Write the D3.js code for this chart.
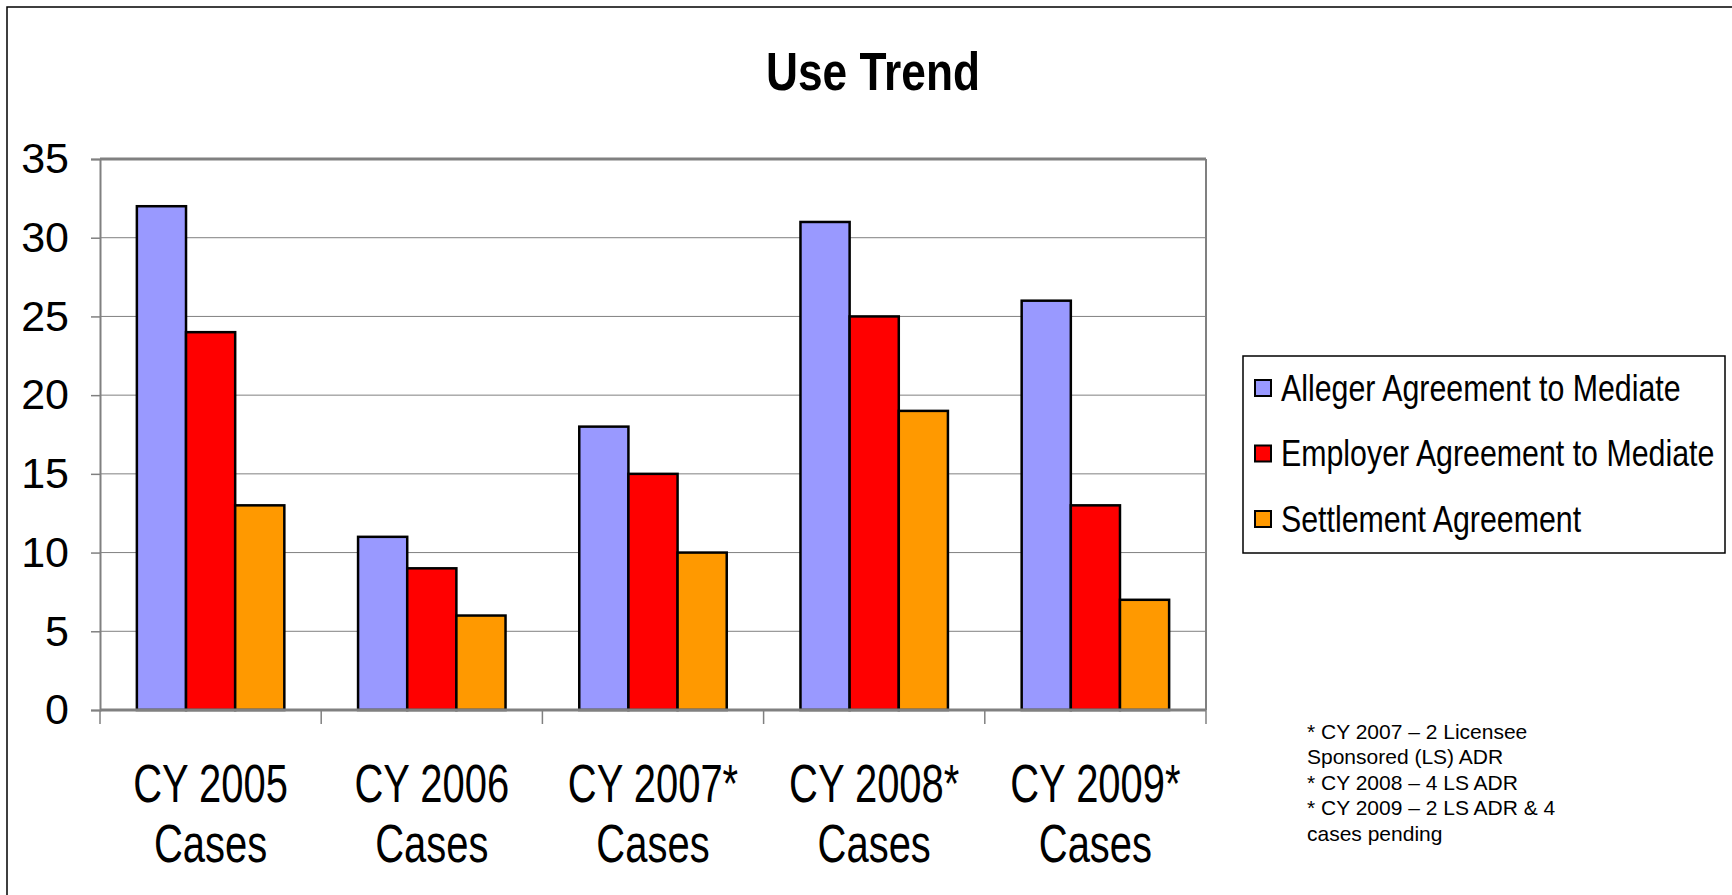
<!DOCTYPE html>
<html>
<head>
<meta charset="utf-8">
<script src="https://cdn.jsdelivr.net/npm/d3@7"></script>
<style>
  body { margin: 0; background: #fff; }
  svg { display: block; }
</style>
</head>
<body>
<div id="chart"></div>
<script>
var categories = [["CY 2005", "Cases"], ["CY 2006", "Cases"], ["CY 2007*", "Cases"], ["CY 2008*", "Cases"], ["CY 2009*", "Cases"]];
var seriesNames = ["Alleger Agreement to Mediate", "Employer Agreement to Mediate", "Settlement Agreement"];
var allegerValues = [32, 11, 18, 31, 26];
var employerValues = [24, 9, 15, 25, 13];
var settlementValues = [13, 6, 10, 19, 7];
var yTicks = [0, 5, 10, 15, 20, 25, 30, 35];
var footnotes = ["* CY 2007 \u2013 2 Licensee", "Sponsored (LS) ADR", "* CY 2008 \u2013 4 LS ADR", "* CY 2009 \u2013 2 LS ADR & 4", "cases pending"];

var colors = ["#9999FF", "#FF0000", "#FF9900"];
// no narrow font installed, so squeeze Liberation Sans horizontally instead
var font = "'Liberation Sans', Arial, sans-serif";

var W = 1732, H = 895;
var plot = { left: 100, right: 1206, top: 159, bottom: 710 };

function squeeze(x, y, sx) {
    return "translate(" + x + "," + y + ") scale(" + sx + ",1)";
}

var svg = d3.select("#chart").append("svg")
    .attr("width", W)
    .attr("height", H);

// outer frame
svg.append("rect")
    .attr("x", 7).attr("y", 7)
    .attr("width", W + 20).attr("height", H + 20)
    .attr("fill", "none")
    .attr("stroke", "#000")
    .attr("stroke-width", 1.5);

svg.append("text")
    .attr("transform", squeeze(873, 90, 0.82))
    .attr("text-anchor", "middle")
    .style("font-family", font)
    .style("font-weight", "bold")
    .style("font-size", "54px")
    .text("Use Trend");

var x0 = d3.scaleBand()
    .domain(d3.range(categories.length))
    .range([plot.left, plot.right])
    .padding(0);

var x1 = d3.scaleBand()
    .domain(d3.range(seriesNames.length))
    .range([0, x0.bandwidth()])
    .paddingInner(0)
    .paddingOuter(0.75);

var y = d3.scaleLinear()
    .domain([0, 35])
    .range([plot.bottom, plot.top]);

// grid lines
svg.append("g").selectAll("line")
    .data(yTicks.filter(function (d) { return d > 0; }))
    .enter().append("line")
    .attr("x1", plot.left).attr("x2", plot.right)
    .attr("y1", function (d) { return y(d); })
    .attr("y2", function (d) { return y(d); })
    .attr("stroke", "#808080")
    .attr("stroke-width", function (d) { return d === 35 ? 3 : 1; });

// right border of plot
svg.append("line")
    .attr("x1", plot.right).attr("x2", plot.right)
    .attr("y1", plot.top).attr("y2", plot.bottom)
    .attr("stroke", "#808080")
    .attr("stroke-width", 2);

var data = categories.map(function (c, i) {
    return [allegerValues[i], employerValues[i], settlementValues[i]];
});

var groups = svg.append("g").selectAll("g")
    .data(data)
    .enter().append("g")
    .attr("transform", function (d, i) { return "translate(" + x0(i) + ",0)"; });

groups.selectAll("rect")
    .data(function (d) { return d; })
    .enter().append("rect")
    .attr("x", function (d, j) { return x1(j); })
    .attr("y", function (d) { return y(d); })
    .attr("width", x1.bandwidth())
    .attr("height", function (d) { return y(0) - y(d); })
    .attr("fill", function (d, j) { return colors[j]; })
    .attr("stroke", "#000")
    .attr("stroke-width", 2.5);

// y axis
var yAxis = svg.append("g")
    .attr("transform", "translate(" + plot.left + ",0)")
    .call(d3.axisLeft(y).tickValues(yTicks).tickSize(9).tickPadding(22));
yAxis.select(".domain").attr("stroke", "#808080").attr("stroke-width", 2);
yAxis.selectAll(".tick line").attr("stroke", "#808080").attr("stroke-width", 1.5);
yAxis.selectAll(".tick text")
    .style("font-family", font)
    .style("font-size", "43px")
    .attr("fill", "#000");

// x axis line and ticks at band edges
var xAxis = svg.append("g")
    .attr("transform", "translate(0," + plot.bottom + ")");
xAxis.append("line")
    .attr("x1", plot.left).attr("x2", plot.right)
    .attr("stroke", "#808080").attr("stroke-width", 3);
xAxis.selectAll(".edge")
    .data(d3.range(categories.length + 1))
    .enter().append("line")
    .attr("class", "edge")
    .attr("x1", function (i) { return plot.left + i * x0.step(); })
    .attr("x2", function (i) { return plot.left + i * x0.step(); })
    .attr("y1", 0).attr("y2", 14)
    .attr("stroke", "#808080").attr("stroke-width", 1.5);

var labels = xAxis.selectAll(".lab")
    .data(categories)
    .enter().append("text")
    .attr("class", "lab")
    .attr("text-anchor", "middle")
    .attr("transform", function (d, i) { return squeeze(x0(i) + x0.bandwidth() / 2, 92, 0.74); })
    .style("font-family", font)
    .style("font-size", "54px");
labels.each(function (d) {
    var t = d3.select(this);
    d.forEach(function (line, k) {
        t.append("tspan")
            .attr("x", 0)
            .attr("y", k * 60)
            .text(line);
    });
});

// legend
var legend = svg.append("g").attr("transform", "translate(1243,356)");
legend.append("rect")
    .attr("width", 482).attr("height", 197)
    .attr("fill", "#fff")
    .attr("stroke", "#000").attr("stroke-width", 1.5);
var items = legend.selectAll(".item")
    .data(seriesNames)
    .enter().append("g")
    .attr("class", "item")
    .attr("transform", function (d, i) { return "translate(0," + (32 + i * 65.5) + ")"; });
items.append("rect")
    .attr("x", 12).attr("y", -8)
    .attr("width", 16).attr("height", 16)
    .attr("fill", function (d, i) { return colors[i]; })
    .attr("stroke", "#000").attr("stroke-width", 2);
items.append("text")
    .attr("transform", squeeze(38, 0, 0.82))
    .attr("dy", "0.35em")
    .style("font-family", font)
    .style("font-size", "37px")
    .text(function (d) { return d; });

// footnote
svg.append("g").selectAll("text")
    .data(footnotes)
    .enter().append("text")
    .attr("x", 1307)
    .attr("y", function (d, i) { return 739 + i * 25.4; })
    .style("font-family", font)
    .style("font-size", "21px")
    .text(function (d) { return d; });
</script>
</body>
</html>
